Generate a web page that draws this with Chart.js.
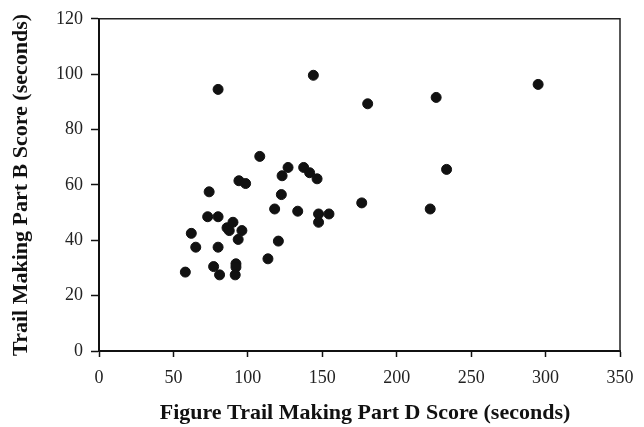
<!DOCTYPE html>
<html>
<head>
<meta charset="utf-8">
<script src="https://cdn.jsdelivr.net/npm/chart.js@4.4.1/dist/chart.umd.min.js"></script>
<style>
  html, body { margin: 0; padding: 0; background: #fff; }
  canvas { display: block; }
</style>
</head>
<body>
<canvas id="scatter" width="644" height="427"></canvas>
<script>
// Part D score (x) and Part B score (y)
const partD = [58, 62, 65, 74, 73, 80, 77, 80, 81, 86, 87.5, 90, 96, 93.5, 92, 92, 91.5, 94, 98.5,
  108, 113.5, 118, 120.5, 122.5, 123, 127, 133.5, 137.5, 141.5, 146.5, 147.5, 147.5, 154.5,
  176.5, 222.5, 233.5, 80, 144, 180.5, 226.5, 295];
const partB = [28.5, 42.5, 37.5, 57.5, 48.5, 48.5, 30.5, 37.5, 27.5, 44.5, 43.5, 46.5, 43.5, 40.3, 31.5, 30.3, 27.5, 61.5, 60.5,
  70.3, 33.3, 51.3, 39.7, 56.5, 63.3, 66.3, 50.5, 66.3, 64.4, 62.2, 49.5, 46.5, 49.5,
  53.5, 51.3, 65.6, 94.5, 99.6, 89.3, 91.6, 96.3];
const xTicks = [0, 50, 100, 150, 200, 250, 300, 350];
const yTicks = [0, 20, 40, 60, 80, 100, 120];

const serif = "'Liberation Serif', 'Times New Roman', serif";

// top and right edges of the frame
const frame = {
    id: 'frame',
    afterDraw(chart) {
        const { ctx, chartArea: a } = chart;
        ctx.save();
        ctx.strokeStyle = '#222';
        ctx.lineWidth = 1.5;
        ctx.beginPath();
        ctx.moveTo(a.left, a.top);
        ctx.lineTo(a.right, a.top);
        ctx.lineTo(a.right, a.bottom);
        ctx.stroke();
        ctx.restore();
    }
};

new Chart(document.getElementById('scatter'), {
    type: 'scatter',
    data: {
        datasets: [{
            data: partD.map((x, i) => ({ x: x, y: partB[i] })),
            backgroundColor: '#111',
            borderColor: '#111',
            pointRadius: 5,
            pointHoverRadius: 5
        }]
    },
    options: {
        responsive: false,
        animation: false,
        layout: { padding: { top: 17, right: 24, left: 0, bottom: 0 } },
        plugins: {
            legend: { display: false },
            tooltip: { enabled: false }
        },
        scales: {
            x: {
                type: 'linear',
                min: 0,
                max: 350,
                afterBuildTicks: (s) => { s.ticks = xTicks.map(v => ({ value: v })); },
                afterFit: (s) => { s.height = 76; },
                grid: { display: true, drawOnChartArea: false, tickLength: 6, color: '#111', tickWidth: 1.5 },
                border: { color: '#111', width: 2 },
                ticks: { color: '#222', padding: 10, font: { family: serif, size: 18 } },
                title: {
                    display: true,
                    text: '  Figure Trail Making Part D Score (seconds)',
                    color: '#111',
                    padding: { top: 0, bottom: 0 },
                    font: { family: serif, size: 22, weight: 'bold' }
                }
            },
            y: {
                min: 0,
                max: 120,
                afterBuildTicks: (s) => { s.ticks = yTicks.map(v => ({ value: v })); },
                afterFit: (s) => { s.width = 99; },
                grid: { display: true, drawOnChartArea: false, tickLength: 8, color: '#111', tickWidth: 1.5 },
                border: { color: '#111', width: 2 },
                ticks: { color: '#222', padding: 8, font: { family: serif, size: 18 } },
                title: {
                    display: true,
                    text: 'Trail Making Part B Score (seconds)',
                    color: '#111',
                    padding: { top: 8, bottom: 0 },
                    font: { family: serif, size: 22, weight: 'bold' }
                }
            }
        }
    },
    plugins: [frame]
});
</script>
</body>
</html>
